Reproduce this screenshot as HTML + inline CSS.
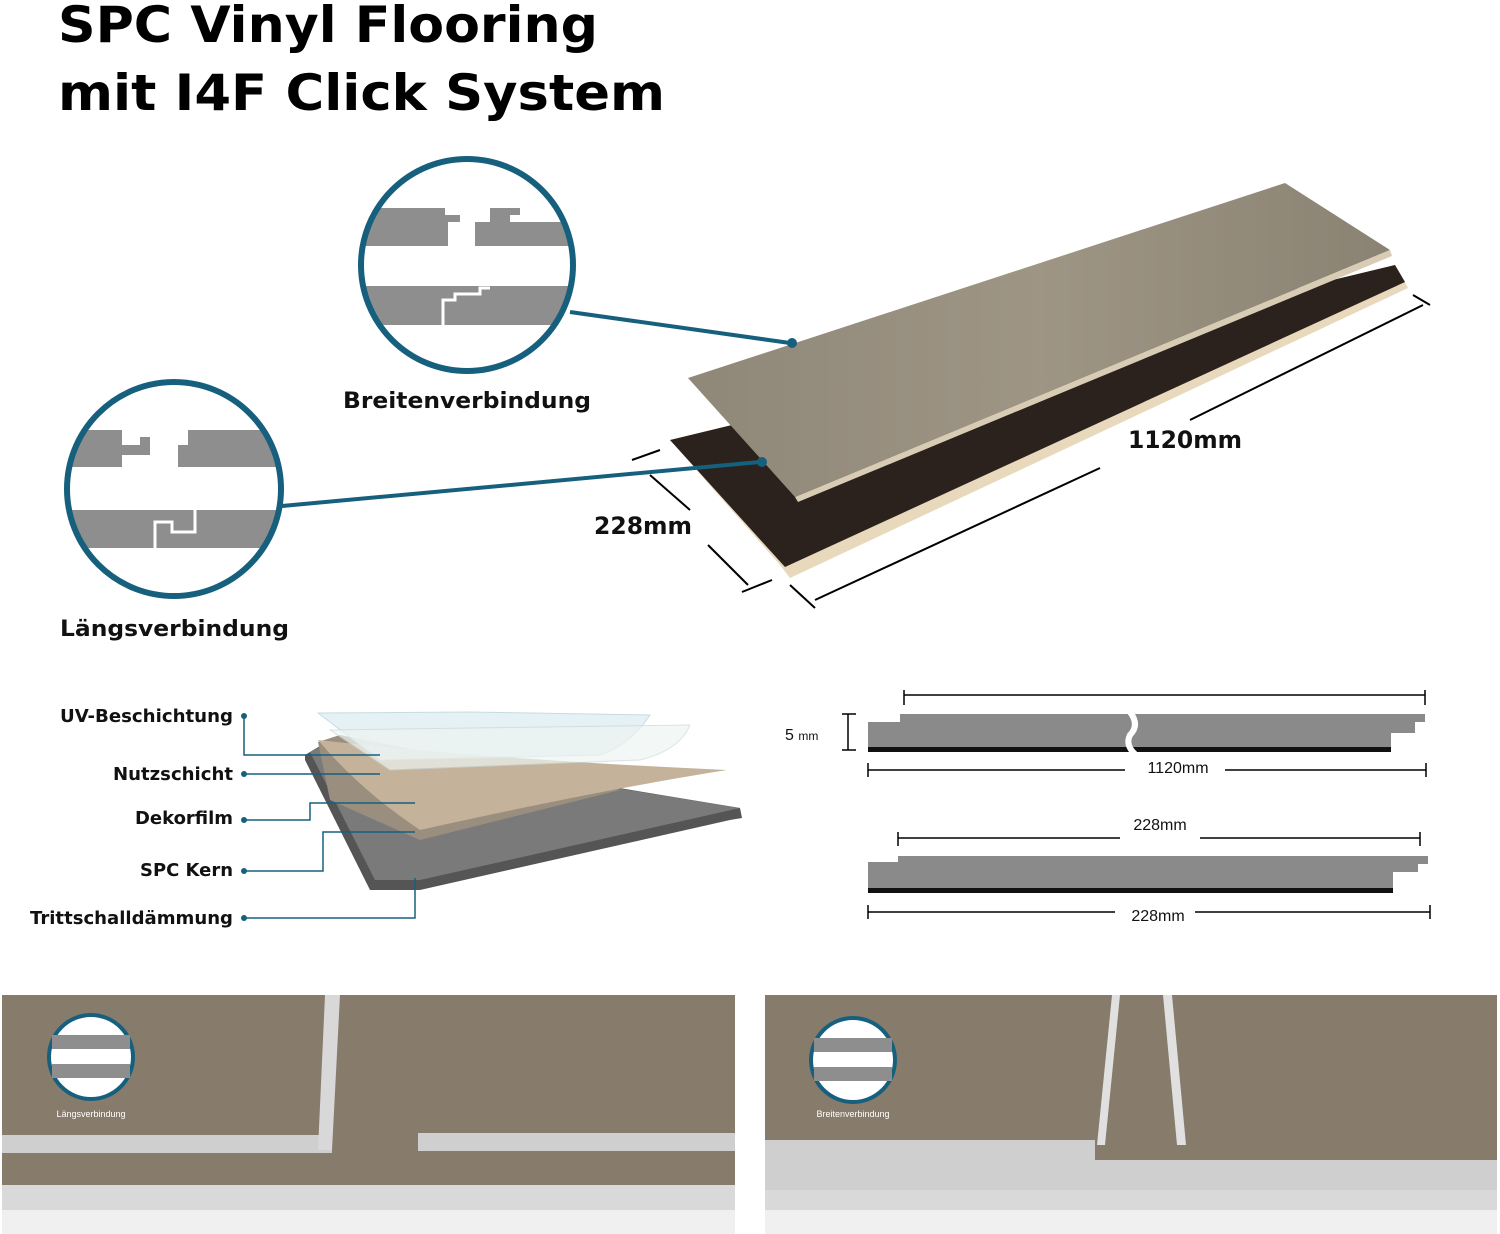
<!DOCTYPE html>
<html><head><meta charset="utf-8"><style>
html,body{margin:0;padding:0;background:#fff;}
svg{display:block;}
text{font-family:"Liberation Sans","DejaVu Sans",sans-serif;}
.b{font-family:"DejaVu Sans","Liberation Sans",sans-serif;font-weight:bold;}
</style></head><body>
<svg width="1500" height="1234" viewBox="0 0 1500 1234" xmlns="http://www.w3.org/2000/svg">
<defs>
<linearGradient id="wood" x1="0" y1="0" x2="1" y2="0">
<stop offset="0" stop-color="#8f8778"/><stop offset="0.5" stop-color="#9e9585"/><stop offset="1" stop-color="#8a8272"/></linearGradient>
<clipPath id="c1"><circle cx="467" cy="265" r="104"/></clipPath>
<clipPath id="c2"><circle cx="174" cy="489" r="105"/></clipPath>
</defs>
<text class="b" x="58" y="42" font-size="50" fill="#000" textLength="540" lengthAdjust="spacingAndGlyphs">SPC Vinyl Flooring</text>
<text class="b" x="58" y="110" font-size="50" fill="#000" textLength="607" lengthAdjust="spacingAndGlyphs">mit I4F Click System</text>

<!-- circle 1 -->
<g clip-path="url(#c1)">
<rect x="350" y="160" width="240" height="220" fill="#fff"/>
<path d="M350 208 H445 V215 H460 V222 H448 V246 H350 Z" fill="#8e8e8e"/>
<path d="M475 222 H490 V208 H520 V215 H510 V222 H590 V246 H475 Z" fill="#8e8e8e"/>
<path d="M350 286 H590 V325 H350 Z" fill="#8e8e8e"/>
<path d="M443 325 V300 H455 V294 H480 V288 H490" stroke="#fff" stroke-width="3" fill="none"/>
</g>
<circle cx="467" cy="265" r="106" fill="none" stroke="#16607e" stroke-width="6"/>
<text class="b" x="343" y="408" font-size="22" fill="#111" textLength="248" lengthAdjust="spacingAndGlyphs">Breitenverbindung</text>

<!-- circle 2 -->
<g clip-path="url(#c2)">
<rect x="60" y="380" width="230" height="220" fill="#fff"/>
<path d="M60 430 H122 V445 H140 V437 H150 V455 H122 V467 H60 Z" fill="#8e8e8e"/>
<path d="M178 445 H188 V430 H290 V467 H178 Z" fill="#8e8e8e"/>
<path d="M60 510 H290 V548 H60 Z" fill="#8e8e8e"/>
<path d="M155 548 V522 H172 V532 H195 V510" stroke="#fff" stroke-width="3" fill="none"/>
</g>
<circle cx="174" cy="489" r="107" fill="none" stroke="#16607e" stroke-width="6"/>
<text class="b" x="60" y="636" font-size="22" fill="#111" textLength="229" lengthAdjust="spacingAndGlyphs">Längsverbindung</text>

<!-- plank -->
<polygon points="670,440 1395,265 1408,288 790,578 780,565" fill="#e8d9bd"/>
<polygon points="670,440 1395,265 1405,282 785,567" fill="#2b211d"/>
<polygon points="688,378 1285,183 1390,250 795,497" fill="url(#wood)"/>
<polygon points="795,497 1390,250 1392,256 798,502" fill="#d8ccb4"/>
<!-- connectors -->
<line x1="570" y1="312" x2="790" y2="343" stroke="#16607e" stroke-width="4"/>
<circle cx="792" cy="343" r="5" fill="#16607e"/>
<line x1="282" y1="506" x2="760" y2="462" stroke="#16607e" stroke-width="4"/>
<circle cx="762" cy="462" r="5" fill="#16607e"/>
<!-- dims -->
<line x1="815" y1="600" x2="1100" y2="468" stroke="#000" stroke-width="2"/>
<line x1="1190" y1="420" x2="1423" y2="305" stroke="#000" stroke-width="2"/>
<line x1="790" y1="585" x2="815" y2="608" stroke="#000" stroke-width="2"/>
<line x1="1413" y1="295" x2="1430" y2="305" stroke="#000" stroke-width="2"/>
<text class="b" x="1128" y="448" font-size="24" fill="#111" textLength="114" lengthAdjust="spacingAndGlyphs">1120mm</text>
<line x1="650" y1="475" x2="690" y2="510" stroke="#000" stroke-width="2"/>
<line x1="708" y1="545" x2="748" y2="585" stroke="#000" stroke-width="2"/>
<line x1="632" y1="460" x2="660" y2="450" stroke="#000" stroke-width="2"/>
<line x1="742" y1="592" x2="772" y2="580" stroke="#000" stroke-width="2"/>
<text class="b" x="594" y="534" font-size="24" fill="#111" textLength="98" lengthAdjust="spacingAndGlyphs">228mm</text>

<!-- layers -->
<g font-size="18" fill="#111" class="b">
<text class="b" x="60" y="722" textLength="173" lengthAdjust="spacingAndGlyphs">UV-Beschichtung</text>
<text class="b" x="113" y="780" textLength="120" lengthAdjust="spacingAndGlyphs">Nutzschicht</text>
<text class="b" x="135" y="824" textLength="98" lengthAdjust="spacingAndGlyphs">Dekorfilm</text>
<text class="b" x="140" y="876" textLength="93" lengthAdjust="spacingAndGlyphs">SPC Kern</text>
<text class="b" x="30" y="924" textLength="203" lengthAdjust="spacingAndGlyphs">Trittschalldämmung</text>
</g>
<g fill="#16607e"><circle cx="244" cy="716" r="3"/><circle cx="244" cy="774" r="3"/><circle cx="244" cy="820" r="3"/><circle cx="244" cy="871" r="3"/><circle cx="244" cy="918" r="3"/></g>
<polygon points="305,755 330,740 740,808 742,818 730,820 420,890 370,890 305,760" fill="#555"/>
<polygon points="310,752 330,742 740,808 420,880 375,880" fill="#7a7a7a"/>
<polygon points="318,742 340,735 620,790 420,840 330,800" fill="#9a8e7e"/>
<path d="M318 740 Q500 760 727 770 Q600 790 420 830 Q360 790 318 740Z" fill="#c4b29a"/>
<path d="M318 713 L470 712 L650 715 Q630 745 600 755 L380 760 Z" fill="#dfeef2" stroke="#b8d4dc" opacity="0.8"/>
<path d="M330 730 L690 725 Q680 750 640 760 L390 770 Z" fill="#eef4f2" stroke="#c8d8d8" opacity="0.7"/>
<g stroke="#16607e" stroke-width="1.5" fill="none">
<path d="M244 716 V755 H380"/><path d="M244 774 H380"/><path d="M244 820 H310 V803 H415"/><path d="M244 871 H323 V832 H415"/><path d="M244 918 H415 V878"/>
</g>

<!-- cross sections -->
<g stroke="#000" stroke-width="1.5">
<line x1="904" y1="695" x2="1425" y2="695"/><line x1="904" y1="690" x2="904" y2="705"/><line x1="1425" y1="690" x2="1425" y2="705"/>
<line x1="868" y1="770" x2="1426" y2="770"/><line x1="868" y1="763" x2="868" y2="777"/><line x1="1426" y1="763" x2="1426" y2="777"/>
<line x1="898" y1="838" x2="1420" y2="838"/><line x1="898" y1="832" x2="898" y2="846"/><line x1="1420" y1="832" x2="1420" y2="846"/>
<line x1="868" y1="912" x2="1430" y2="912"/><line x1="868" y1="905" x2="868" y2="919"/><line x1="1430" y1="905" x2="1430" y2="919"/>
<line x1="848" y1="714" x2="848" y2="750"/><line x1="842" y1="714" x2="856" y2="714"/><line x1="842" y1="750" x2="856" y2="750"/>
</g>
<path d="M868 722 H900 V714 H1425 V722 H1415 V733 H1391 V752 H868 Z" fill="#8a8a8a"/>
<rect x="868" y="747" width="523" height="5" fill="#111"/>
<path d="M1130 712 Q1140 725 1130 735 Q1125 745 1135 754" stroke="#fff" stroke-width="6" fill="none"/>
<path d="M868 862 H898 V856 H1428 V864 H1418 V872 H1393 V893 H868 Z" fill="#8a8a8a"/>
<rect x="868" y="888" width="525" height="5" fill="#111"/>
<g font-size="16" fill="#111">
<rect x="1125" y="760" width="100" height="16" fill="#fff"/>
<text x="1178" y="773" text-anchor="middle">1120mm</text>
<rect x="1120" y="829" width="80" height="16" fill="#fff"/>
<text x="1160" y="830" text-anchor="middle">228mm</text>
<rect x="1115" y="904" width="80" height="16" fill="#fff"/>
<text x="1158" y="921" text-anchor="middle">228mm</text>
<text x="785" y="740">5 <tspan font-size="12">mm</tspan></text>
</g>

<!-- bottom photos -->
<rect x="2" y="995" width="733" height="239" fill="#877b6b"/>
<rect x="2" y="1185" width="733" height="49" fill="#d9d9d9"/>
<rect x="2" y="1210" width="733" height="24" fill="#f0f0f0"/>
<rect x="2" y="1135" width="330" height="18" fill="#cfcfcf"/>
<polygon points="325,995 340,995 332,1150 318,1150" fill="#d8d8d8"/>
<rect x="418" y="1133" width="317" height="18" fill="#cfcfcf"/>
<circle cx="91" cy="1057" r="42" fill="#fff" stroke="#16607e" stroke-width="4"/>
<rect x="52" y="1035" width="78" height="14" fill="#8e8e8e"/><rect x="52" y="1064" width="78" height="14" fill="#8e8e8e"/>
<text x="91" y="1117" font-size="9" text-anchor="middle" fill="#fff">Längsverbindung</text>

<rect x="765" y="995" width="732" height="239" fill="#877b6b"/>
<rect x="765" y="1160" width="732" height="30" fill="#cfcfcf"/>
<rect x="765" y="1190" width="732" height="44" fill="#d9d9d9"/>
<rect x="765" y="1210" width="732" height="24" fill="#f0f0f0"/>
<polygon points="1112,995 1120,995 1105,1145 1097,1145" fill="#e0e0e0"/>
<polygon points="1163,995 1172,995 1186,1145 1177,1145" fill="#e0e0e0"/>
<rect x="765" y="1140" width="330" height="20" fill="#cfcfcf"/>
<circle cx="853" cy="1060" r="42" fill="#fff" stroke="#16607e" stroke-width="4"/>
<rect x="814" y="1038" width="78" height="14" fill="#8e8e8e"/><rect x="814" y="1067" width="78" height="14" fill="#8e8e8e"/>
<text x="853" y="1117" font-size="9" text-anchor="middle" fill="#fff">Breitenverbindung</text>
</svg>
</body></html>
